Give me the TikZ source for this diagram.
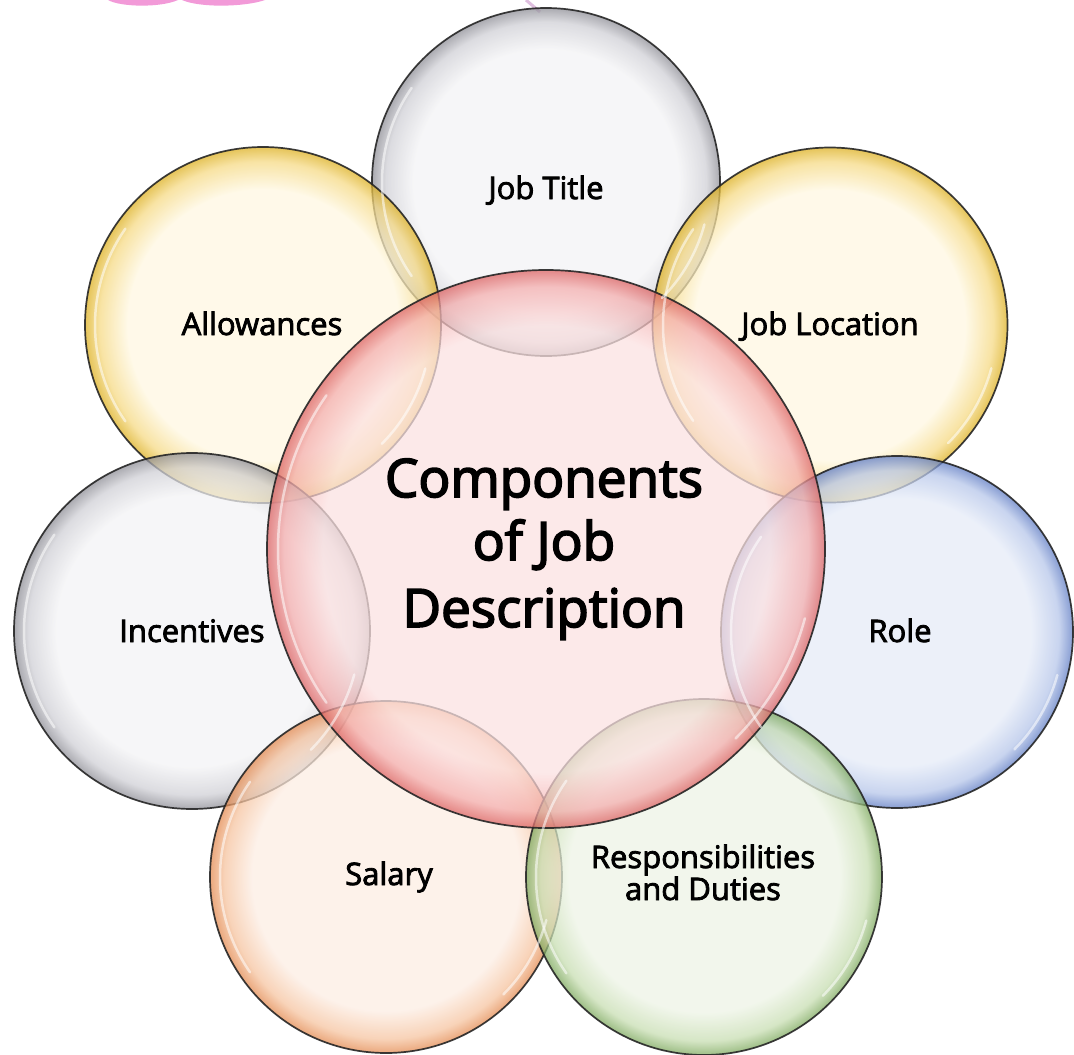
\documentclass[tikz,border=0pt]{standalone}
\usepackage{fontspec}
\setmainfont{Open Sans}[FakeBold=2.6]
\newfontfamily\bigfont{Open Sans}[FakeBold=3.2]
\definecolor{grayc}{HTML}{F4F4F6}\definecolor{graym}{HTML}{D0D0D6}\definecolor{grayr}{HTML}{8E8E96}
\definecolor{yelc}{HTML}{FFF8E2}\definecolor{yelm}{HTML}{F6DA84}\definecolor{yelr}{HTML}{DDB020}
\definecolor{redc}{HTML}{FCE2E2}\definecolor{redm}{HTML}{F4AEAE}\definecolor{redr}{HTML}{DC6262}
\definecolor{bluc}{HTML}{E6ECF8}\definecolor{blum}{HTML}{B6C6EA}\definecolor{blur}{HTML}{5F7CC4}
\definecolor{orac}{HTML}{FDEEE4}\definecolor{oram}{HTML}{F6C4A0}\definecolor{orar}{HTML}{E48A50}
\definecolor{grec}{HTML}{EEF4E6}\definecolor{grem}{HTML}{C8DEB2}\definecolor{grer}{HTML}{7CA85C}
\definecolor{rimline}{HTML}{252525}
\definecolor{wmpink}{HTML}{F29AD8}
\pgfdeclareradialshading{bubgray}{\pgfpoint{0bp}{0bp}}{color(0bp)=(grayc); color(19bp)=(grayc); color(23bp)=(graym); color(25bp)=(grayr); color(50bp)=(grayr)}
\pgfdeclareradialshading{bubyel}{\pgfpoint{0bp}{0bp}}{color(0bp)=(yelc); color(19bp)=(yelc); color(23bp)=(yelm); color(25bp)=(yelr); color(50bp)=(yelr)}
\pgfdeclareradialshading{bubred}{\pgfpoint{0bp}{0bp}}{color(0bp)=(redc); color(20bp)=(redc); color(23.5bp)=(redm); color(25bp)=(redr); color(50bp)=(redr)}
\pgfdeclareradialshading{bubblu}{\pgfpoint{0bp}{0bp}}{color(0bp)=(bluc); color(19bp)=(bluc); color(23bp)=(blum); color(25bp)=(blur); color(50bp)=(blur)}
\pgfdeclareradialshading{bubora}{\pgfpoint{0bp}{0bp}}{color(0bp)=(orac); color(19bp)=(orac); color(23bp)=(oram); color(25bp)=(orar); color(50bp)=(orar)}
\pgfdeclareradialshading{bubgre}{\pgfpoint{0bp}{0bp}}{color(0bp)=(grec); color(19bp)=(grec); color(23bp)=(grem); color(25bp)=(grer); color(50bp)=(grer)}
\tikzset{
  bubble/.style={circle, inner sep=0pt, shade, fill opacity=0.74, draw=rimline, draw opacity=0.9, line width=1.7pt},
  lbl/.style={anchor=base, inner sep=0pt, text=black, font=\fontsize{31}{36}\selectfont},
  big/.style={anchor=base, inner sep=0pt, text=black, font=\bigfont\fontsize{53}{62}\selectfont},
  gloss/.style={white, line width=2.5pt, opacity=0.55, line cap=round}
}
\begin{document}
\begin{tikzpicture}[x=1pt,y=-1pt]
\useasboundingbox (0,0) rectangle (1074,1055);
\fill[white] (0,0) rectangle (1074,1055);
% watermark fragments
\fill[wmpink] (108,0) .. controls (120,7) and (160,8) .. (178,0) -- cycle;
\fill[wmpink] (182,0) .. controls (200,8) and (245,7) .. (265,0) -- cycle;
\draw[violet!25, line width=3pt] (526,0) -- (540,12);
% bubbles
\node[bubble, shading=bubgray, minimum size=348pt] (jt) at (546,182) {};
\node[bubble, shading=bubyel,  minimum size=355pt] (jl) at (830,325) {};
\node[bubble, shading=bubyel,  minimum size=356pt] (al) at (263,325) {};
\node[bubble, shading=bubblu,  minimum size=352pt] (ro) at (897,632) {};
\node[bubble, shading=bubgray, minimum size=356pt] (in) at (192,631) {};
\node[bubble, shading=bubora,  minimum size=352pt] (sa) at (386,877) {};
\node[bubble, shading=bubgre,  minimum size=356pt] (re) at (704,877) {};
\node[bubble, shading=bubred,  minimum size=558pt] (core) at (546,549) {};
% gloss highlights
\foreach \n/\r in {jt/164,jl/167,al/168,ro/166,in/168,sa/166,re/168,core/268}{
  \draw[gloss] (\n.center) ++(145:\r) arc[start angle=145, end angle=215, radius=\r];
  \draw[gloss] (\n.center) ++(15:\r) arc[start angle=15, end angle=45, radius=\r];
}
% labels
\node[lbl] at ([yshift=-17pt]jt.center) {Job Title};
\node[lbl] at ([yshift=-10pt]jl.center) {Job Location};
\node[lbl] at ([yshift=-10pt,xshift=-1pt]al.center) {Allowances};
\node[lbl] at ([yshift=-10pt,xshift=3pt]ro.center) {Role};
\node[lbl] at ([yshift=-11pt]in.center) {Incentives};
\node[lbl] at ([yshift=-8pt,xshift=3pt]sa.center) {Salary};
\node[lbl] at ([yshift=9pt,xshift=-1pt]re.center) {Responsibilities};
\node[lbl] at ([yshift=-23pt,xshift=-1pt]re.center) {and Duties};
\node[big] at ([yshift=52pt,xshift=-2pt]core.center) {Components};
\node[big] at ([yshift=-11pt,xshift=-2pt]core.center) {of Job};
\node[big] at ([yshift=-78pt,xshift=-2pt]core.center) {Description};
\end{tikzpicture}
\end{document}
